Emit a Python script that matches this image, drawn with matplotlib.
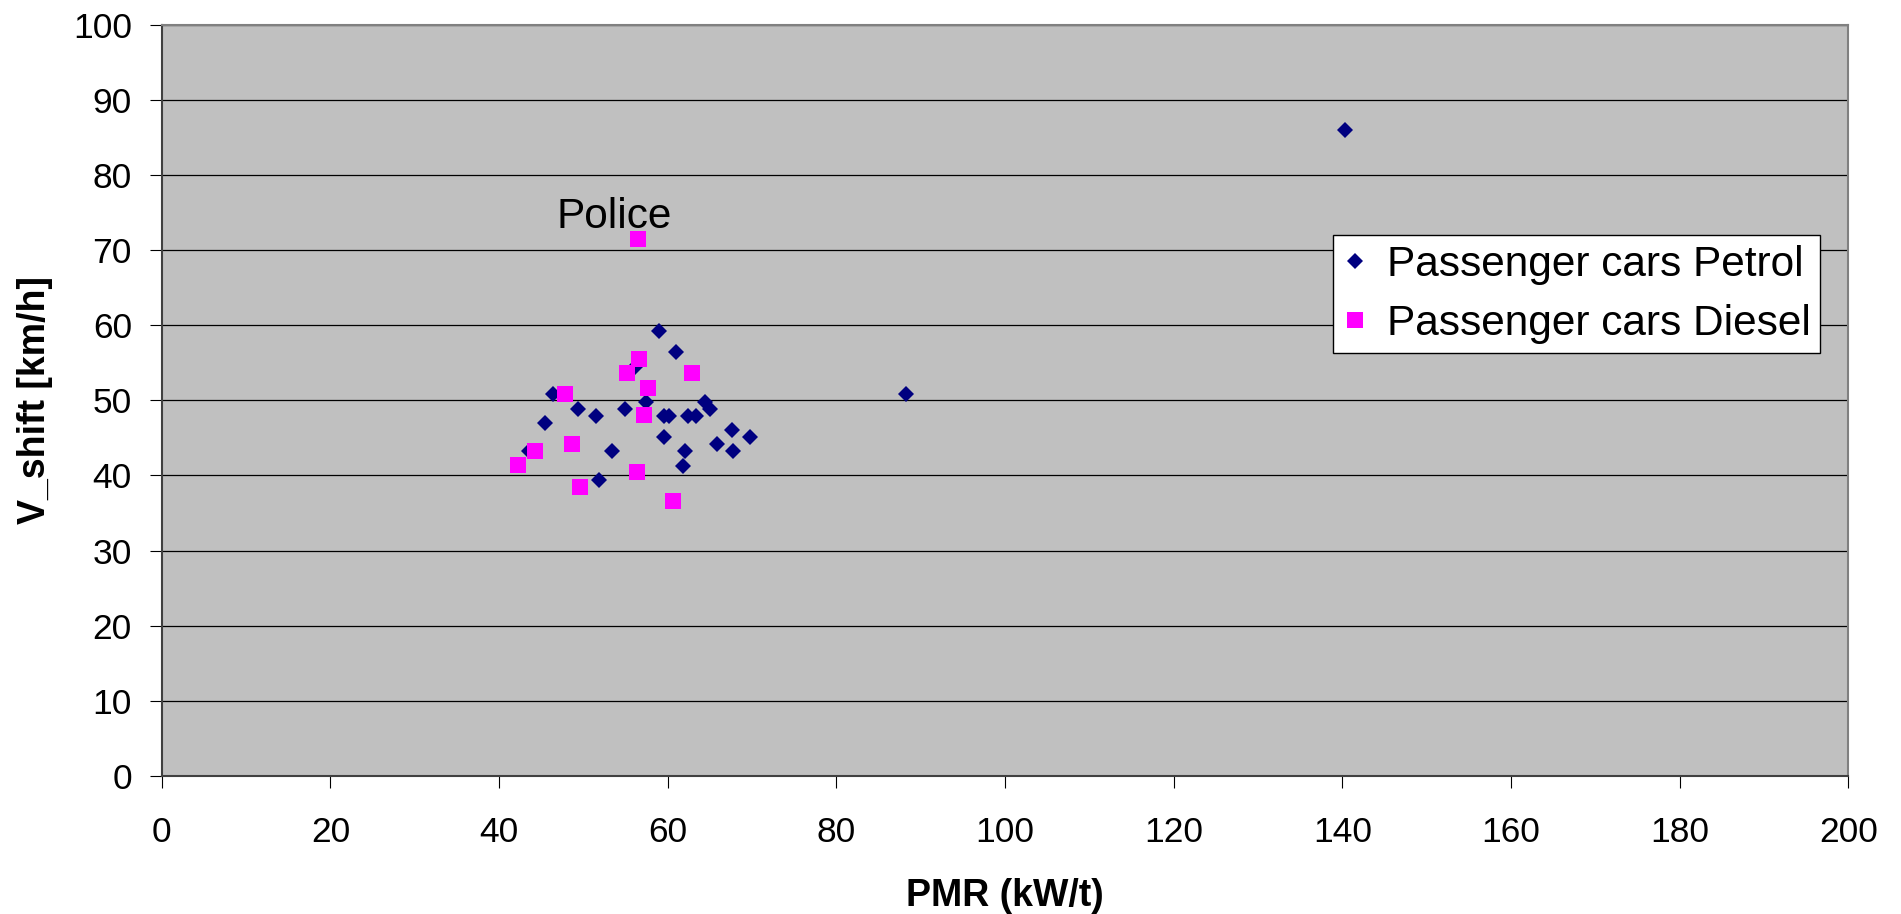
import matplotlib
matplotlib.use("Agg")
import matplotlib.pyplot as plt

plt.rcParams['font.family'] = ['Liberation Sans', 'DejaVu Sans']

# PMR (kW/t) and V_shift (km/h) per vehicle
petrol_pmr = [43.6, 45.5, 46.4, 49.4, 51.5, 51.8, 53.4, 54.9, 56.1, 57.4,
              59.0, 59.5, 59.6, 60.1, 61.0, 61.8, 62.1, 62.4, 63.3, 64.4,
              65.0, 65.8, 67.6, 67.7, 69.7, 88.3, 140.3]
petrol_vshift = [43.2, 47.0, 50.8, 48.9, 47.9, 39.4, 43.2, 48.9, 54.5, 49.8,
                 59.2, 47.9, 45.1, 47.9, 56.4, 41.3, 43.2, 47.9, 47.9, 49.8,
                 48.8, 44.2, 46.0, 43.2, 45.1, 50.8, 86.0]

diesel_pmr = [42.2, 44.3, 47.8, 48.7, 49.6, 55.2, 56.4, 56.5, 56.6, 57.2,
              57.6, 60.6, 62.9]
diesel_vshift = [41.4, 43.2, 50.8, 44.2, 38.5, 53.6, 40.4, 71.5, 55.5, 48.0,
                 51.7, 36.6, 53.6]

x_ticks = list(range(0, 201, 20))
y_ticks = list(range(0, 101, 10))

fig = plt.figure(figsize=(19.01, 9.14), dpi=100)
ax = fig.add_axes([0.0851, 0.1510, 0.8872, 0.8220])
ax.set_facecolor('#C0C0C0')

ax.plot(petrol_pmr, petrol_vshift, linestyle='none', marker='D', ms=7.8,
        mew=0, color='#000080', label='Passenger cars Petrol', zorder=3)
ax.plot(diesel_pmr, diesel_vshift, linestyle='none', marker='s', ms=11,
        mew=0, color='#FF00FF', label='Passenger cars Diesel', zorder=4)

ax.text(53.6, 73.0, 'Police', fontsize=30.5, ha='center', va='baseline')

ax.set_xlim(0, 200)
ax.set_ylim(0, 100)
ax.set_xticks(x_ticks)
ax.set_yticks(y_ticks)
ax.tick_params(direction='out', length=8.5, width=0.8, labelsize=25.5,
               color='black')
ax.tick_params(axis='x', pad=20)
ax.tick_params(axis='y', pad=13)
ax.yaxis.grid(True, color='black', linewidth=0.9)
ax.set_axisbelow(True)

for side in ['left', 'bottom']:
    ax.spines[side].set_color('#404040')
    ax.spines[side].set_linewidth(1.5)
for side in ['top', 'right']:
    ax.spines[side].set_color('#808080')
    ax.spines[side].set_linewidth(1.5)

ax.set_xlabel('PMR (kW/t)', fontsize=27, fontweight='bold', labelpad=21)
ax.set_ylabel('V_shift [km/h]', fontsize=27, fontweight='bold', labelpad=14)

leg = ax.legend(loc='upper left', bbox_to_anchor=(0.6943, 0.7194),
                fontsize=30.5, frameon=True, fancybox=False, framealpha=1,
                edgecolor='black', borderpad=0.22, handlelength=0.6,
                handletextpad=0.45, labelspacing=0.45, borderaxespad=0)
leg.get_frame().set_linewidth(1.0)

fig.savefig('out.png', dpi=100, facecolor='white')
